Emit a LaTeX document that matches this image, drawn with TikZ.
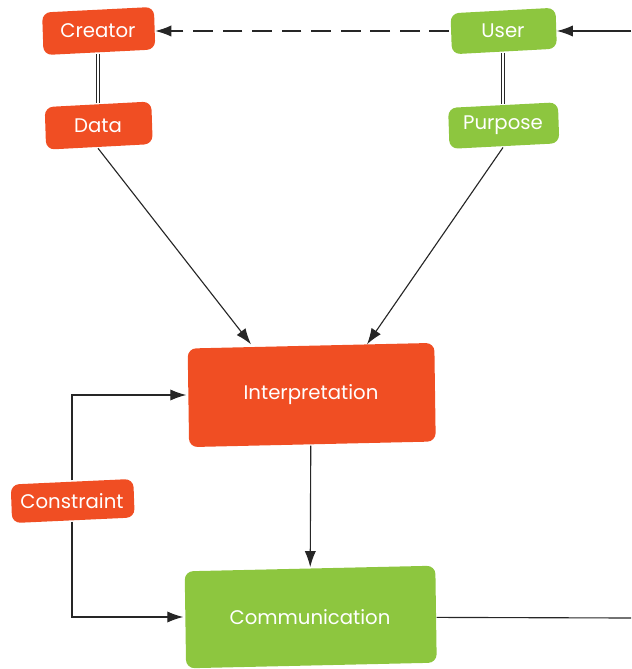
\documentclass[tikz,border=0pt]{standalone}
\usepackage{fontspec}
\setmainfont{Poppins}
\usetikzlibrary{arrows.meta,positioning,backgrounds}
\definecolor{redbox}{HTML}{F04E23}
\definecolor{greenbox}{HTML}{8DC63F}
\tikzset{node distance=1.25cm, >={Latex[length=4mm,width=2.8mm]},
  box/.style={text=white, inner sep=0pt, font=\fontsize{14}{16}\selectfont},
  link/.style={line width=0.8pt, draw=black!85}}
\newcommand\blob[2]{\fill[#2,rounded corners=6pt]
  ([xshift=1pt,yshift=-3pt]#1.north west) -- ([xshift=-1pt,yshift=1pt]#1.north east)
  -- ([yshift=3pt]#1.south east) -- ([xshift=2pt,yshift=-1pt]#1.south west) -- cycle;}

\begin{document}
\begin{tikzpicture}[x=0.025cm,y=-0.025cm]
          \useasboundingbox (0,0) rectangle (631,669);
          \node[box, minimum width=2.85cm, minimum height=1.12cm] (Creator) at (98,31) {Creator};
          \node[box, minimum width=2.72cm, minimum height=1.12cm, below=1.23cm of Creator] (Data) {Data};
          \node[box, minimum width=2.68cm, minimum height=1.08cm] (User) at (503,31) {User};
          \node[box, minimum width=2.8cm, minimum height=1.08cm, below=1.27cm of User] (Purpose) {Purpose};
          \node[box, minimum width=6.22cm, minimum height=2.52cm] (Interpretation) at (311,395) {Interpretation};
          \node[box, minimum width=6.32cm, minimum height=2.48cm] (Communication) at (310,617) {Communication};
          \node[box, minimum width=3.12cm, minimum height=1.02cm] (Constraint) at (72,501) {Constraint};
          \coordinate (inU) at (631,31);
          \coordinate (outC) at (631,618);
          \begin{scope}[on background layer]
            \blob{Creator}{redbox}
            \blob{Data}{redbox}
            \blob{User}{greenbox}
            \blob{Purpose}{greenbox}
            \blob{Interpretation}{redbox}
            \blob{Communication}{greenbox}
            \blob{Constraint}{redbox}
          \end{scope}
          \draw[link,->] (inU) -- (User);
          \draw[link,->,dash pattern=on 14pt off 7pt] (User) -- (Creator);
          \draw[link,line width=0.6pt,double,double distance=1.6pt] (Creator) -- (Data);
          \draw[link,line width=0.6pt,double,double distance=1.6pt] (User) -- (Purpose);
          \draw[link,->] (Data.south) -- ([xshift=-1.5cm]Interpretation.north);
          \draw[link,->] (Purpose.south) -- ([xshift=1.4cm]Interpretation.north);
          \draw[link,->] (Interpretation) -- (Communication);
          \draw[link,->] (Constraint.north) |- (Interpretation.west);
          \draw[link,->] (Constraint.south) |- (Communication.west);
          \draw[link] (Communication) -- (outC);
        \end{tikzpicture}
\end{document}
